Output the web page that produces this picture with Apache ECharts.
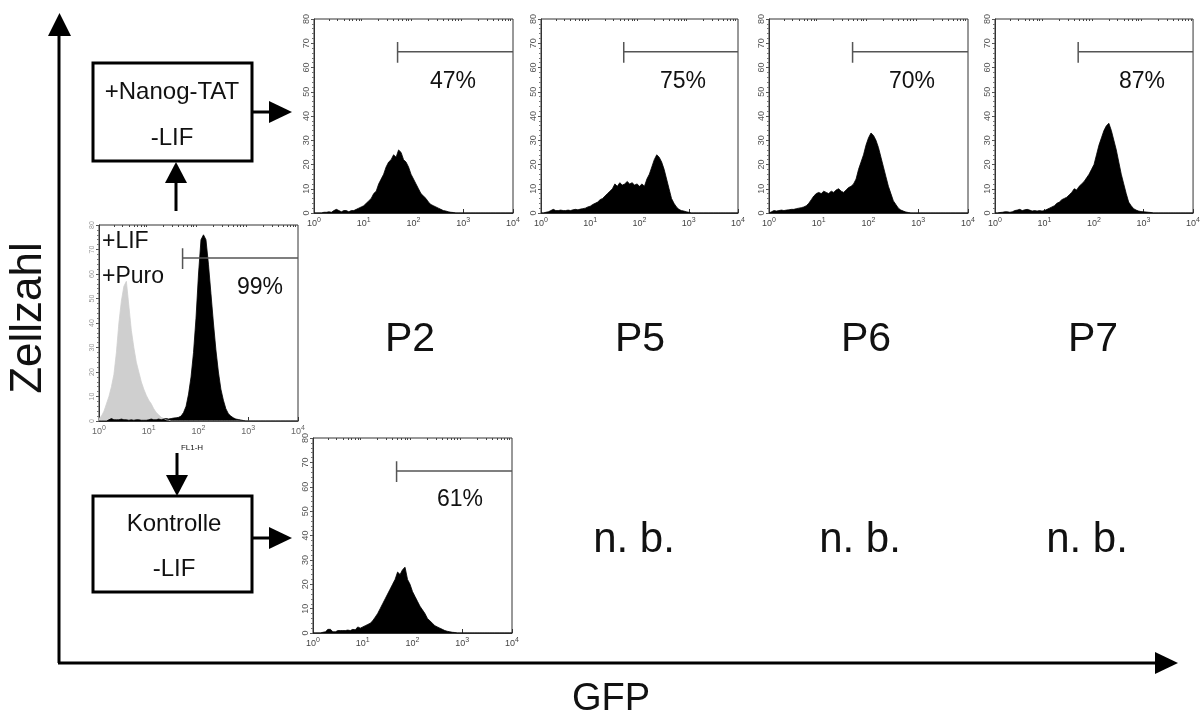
<!DOCTYPE html>
<html>
<head>
<meta charset="utf-8">
<script src="https://cdn.jsdelivr.net/npm/echarts@6/dist/echarts.min.js"></script>
<style>
html,body{margin:0;padding:0;background:#fff;}
#c{width:1203px;height:722px;}
</style>
</head>
<body>
<div id="c"></div>
<script>
// ---- DATA ----
// histogram bin centres, in decades of GFP intensity (10^0 .. 10^4)
const bins = [0,0.05,0.1,0.15,0.2,0.25,0.3,0.35,0.4,0.45,
  0.5,0.55,0.6,0.65,0.7,0.75,0.8,0.85,0.9,0.95,
  1,1.05,1.1,1.15,1.2,1.25,1.3,1.35,1.4,1.45,
  1.5,1.55,1.6,1.65,1.7,1.75,1.8,1.85,1.9,1.95,
  2,2.05,2.1,2.15,2.2,2.25,2.3,2.35,2.4,2.45,
  2.5,2.55,2.6,2.65,2.7,2.75,2.8,2.85,2.9,2.95,
  3,3.05,3.1,3.15,3.2,3.25,3.3,3.35,3.4,3.45,
  3.5,3.55,3.6,3.65,3.7,3.75,3.8,3.85,3.9,3.95,4];

const countsP2 = [0,0,0,0,0.3,0.3,0.5,0.3,1,1.5,
  1,0.5,1,1,0.5,1,1,1.5,2,2.5,
  3,4,5,6,8,9,12,14,16,19,
  21,22,24,23,26,25,22,21,19,16,
  14,12,10,8,7,6,4.5,3.5,3,2.5,
  2,1.5,1,0.8,0.5,0.3,0.2,0,0,0,
  0,0,0,0,0,0,0,0,0,0,
  0,0,0,0,0,0,0,0,0,0,0];
const countsP5 = [0,0,0.3,0.5,1,1.5,1,1,1.2,1,
  1,1.2,1,1.3,1.5,1.3,1.6,1.8,2,2.5,
  2.8,3.5,4,4.5,5.5,6,7,8,9,10,
  12,11,12.5,11.5,12,13,12,12.5,11.5,12,
  11,12,11,14,16,19,22,24,23,21,
  18,14,10,6,4,2.5,1.5,1,0.8,0.5,
  0.3,0,0,0,0,0,0,0,0,0,
  0,0,0,0,0,0,0,0,0,0,0];
const countsP6 = [0,0.5,1,0.8,1,1.2,1,1.2,1.3,1.5,
  1.5,1.8,2,2.2,2.5,3,4,5.5,7,8,
  8.5,8,9,8.5,8,9,8.5,9.5,10,9,
  8.5,9.5,10.5,11,12,14,18,21,24,28,
  31,33,32,30,27,23,19,15,11,8,
  5,3.5,2,1.2,0.8,0.4,0.2,0,0,0,
  0,0,0,0,0,0,0,0,0,0,
  0,0,0,0,0,0,0,0,0,0,0];
const countsP7 = [0,0,0.2,0.3,0.5,0.5,0.3,0.5,1,1.2,
  1.5,1,1.3,1.5,1.2,0.8,1,0.8,1,0.8,
  1,1.5,2,2.5,3,4,4.5,5.5,6,6.5,
  7.5,8.5,10,9.5,11,12,13,14.5,16,18,
  20,24,28,31,34,36,37,34,30,26,
  21,16,12,8,4.5,3,1.8,1.2,0.8,0.6,
  0.5,0.4,0.3,0.2,0,0,0,0,0,0,
  0,0,0,0,0,0,0,0,0,0,0];
const countsKontrolle = [0,0,0,0,0.3,0.5,1.5,1.5,0.5,0.5,
  1,1,1,1,1.2,1,1.5,1.3,2.5,2,
  2.5,3,3.5,4,5,6.5,8,10,12,14,
  16,18,20,22,25,24,26,27,22,20,
  17,15,13,11,9.5,8,6,5,4,3,
  2.5,2,1.5,1,0.7,0.5,0.3,0.2,0,0,
  0,0,0,0,0,0,0,0,0,0,
  0,0,0,0,0,0,0,0,0,0,0];
const countsLifPuro = [0,0,0,0,0.5,1,0.5,0.5,0.5,0.8,
  0.5,0.5,0.3,0.5,0.3,0.5,0.5,0.3,0.3,0.3,
  0.5,0.8,0.5,0.5,0.8,0.5,0.8,1,0.8,1,
  1.2,1.3,1.5,2,3.5,6,11,18,28,42,
  60,74,76,74,64,52,40,29,20,13,
  8.5,5,3,2,1.3,0.8,0.6,0.4,0.2,0,
  0,0,0,0,0,0,0,0,0,0,
  0,0,0,0,0,0,0,0,0,0,0];
const countsNegative = [1,2,4,7,10,14,19,28,40,49,
  55,57,47,37,30,24,20,16,13,10.5,
  8.5,7,5,3.5,2.5,1.5,1,0.5,0.3,0,
  0,0,0,0,0,0,0,0,0,0,
  0,0,0,0,0,0,0,0,0,0,
  0,0,0,0,0,0,0,0,0,0,
  0,0,0,0,0,0,0,0,0,0,
  0,0,0,0,0,0,0,0,0,0,0];

const passages = ['P2','P5','P6','P7'];
const percentNanog = ['47%','75%','70%','87%'];
const percentLif = '99%';
const percentKontrolle = '61%';
const notDetermined = 'n. b.';
const gateStart = 1.68;   // decades (~48)
const gateLevel = 66.5;
const gateTickLow = 62, gateTickHigh = 70.5;
const yTickLabels = ['0','10','20','30','40','50','60','70','80'];
const xDecades = [0,1,2,3,4];

// ---- LAYOUT ----
const FONT = 'Liberation Sans, Arial, Helvetica, sans-serif';
const grids = [
  {left:314, top:19, width:199, height:194},   // P2
  {left:541, top:19, width:197, height:194},   // P5
  {left:769, top:19, width:199, height:194},   // P6
  {left:995, top:19, width:200, height:194},   // P7
  {left:99,  top:225, width:199, height:196},  // +LIF +Puro
  {left:313, top:438, width:199, height:195}   // Kontrolle
];
const minorPositions = [];
for (let k = 0; k < 4; k++) for (let m = 2; m <= 9; m++) minorPositions.push(k + Math.log10(m));

const xAxes = [], yAxes = [], series = [];
grids.forEach((g, i) => {
  const faint = (i === 4);
  xAxes.push({
    gridIndex:i, type:'value', min:0, max:4, interval:1,
    axisLine:{show:true, lineStyle:{color:'#333', width:1}},
    axisTick:{show:true, inside:true, length:4, lineStyle:{color:'#333'}},
    axisLabel:{
      margin:4, color: faint ? '#666' : '#444',
      formatter: v => '{b|10}{s|' + xDecades[v] + '}',
      rich:{ b:{fontSize:9, fontFamily:FONT, color: faint ? '#666':'#444'},
             s:{fontSize:7, fontFamily:FONT, color: faint ? '#666':'#444', padding:[0,0,7,0]} }
    },
    splitLine:{show:false}
  });
  xAxes.push({
    gridIndex:i, type:'value', min:0, max:4,
    axisLine:{show:false},
    axisTick:{show:true, inside:true, length:2, customValues:minorPositions, lineStyle:{color:'#444'}},
    axisLabel:{show:false},
    splitLine:{show:false}
  });
  yAxes.push({
    gridIndex:i, type:'value', min:0, max:80, interval:10,
    axisLine:{show:true, lineStyle:{color:'#333', width:1}},
    axisTick:{show:true, length:3, lineStyle:{color:'#555'}},
    minorTick:{show:true, splitNumber:5, length:2, lineStyle:{color:'#777'}},
    axisLabel:{rotate:90, fontSize: faint ? 7 : 9, color: faint ? '#999' : '#555', margin:3, fontFamily:FONT,
      formatter: v => yTickLabels[v/10]},
    splitLine:{show:false}
  });
});

function hist(idx, counts, color) {
  return {
    type:'line', xAxisIndex:idx*2, yAxisIndex:idx, symbol:'none', silent:true,
    data: bins.map((b, j) => [b, counts[j]]),
    lineStyle:{color:color, width:0.8},
    areaStyle:{color:color, opacity:1},
    z:2
  };
}
function gate(idx) {
  return [{
    type:'line', xAxisIndex:idx*2, yAxisIndex:idx, symbol:'none', silent:true,
    data:[[gateStart, gateLevel],[4, gateLevel]],
    lineStyle:{color:'#555', width:1.5}, z:3
  },{
    type:'line', xAxisIndex:idx*2, yAxisIndex:idx, symbol:'none', silent:true,
    data:[[gateStart, gateTickLow],[gateStart, gateTickHigh]],
    lineStyle:{color:'#555', width:1.5}, z:3
  }];
}
series.push(hist(0, countsP2, '#000'));
series.push(hist(1, countsP5, '#000'));
series.push(hist(2, countsP6, '#000'));
series.push(hist(3, countsP7, '#000'));
series.push(hist(4, countsNegative, '#cfcfcf'));
series.push(hist(4, countsLifPuro, '#000'));
series.push(hist(5, countsKontrolle, '#000'));
for (let i = 0; i < 6; i++) series.push(...gate(i));

// ---- GRAPHIC (diagram annotations) ----
const LW = 3;
function txt(x, y, s, size, opts) {
  return Object.assign({type:'text', x:x, y:y, silent:true,
    style:{text:s, font: size + 'px ' + FONT, fill:'#111', align:'center', verticalAlign:'middle'}}, opts || {});
}
function ltxt(x, y, s, size) {
  return {type:'text', x:x, y:y, silent:true,
    style:{text:s, font: size + 'px ' + FONT, fill:'#111', align:'left', verticalAlign:'middle'}};
}
function line(x1,y1,x2,y2){ return {type:'line', silent:true, shape:{x1,y1,x2,y2}, style:{stroke:'#000', lineWidth:LW}}; }
function tri(pts){ return {type:'polygon', silent:true, shape:{points:pts}, style:{fill:'#000'}}; }

const graphics = [
  // main axes
  line(59, 663, 59, 30), tri([[48,36],[71,36],[59.5,13]]),
  line(58, 663, 1160, 663), tri([[1155,652],[1155,674],[1178,663]]),
  txt(29, 318, 'Zellzahl', 44, {rotation: Math.PI/2}),
  txt(611, 700, 'GFP', 38),
  // boxes
  {type:'rect', silent:true, shape:{x:93, y:63, width:159, height:98}, style:{fill:'#fff', stroke:'#000', lineWidth:LW}},
  {type:'rect', silent:true, shape:{x:93, y:496, width:159, height:96}, style:{fill:'#fff', stroke:'#000', lineWidth:LW}},
  txt(172, 92, '+Nanog-TAT', 24), txt(172, 138, '-LIF', 24),
  txt(174, 524, 'Kontrolle', 24), txt(174, 569, '-LIF', 24),
  // arrows
  line(252, 112, 272, 112), tri([[269,101],[269,123],[292,112]]),
  line(176, 211, 176, 180), tri([[165,183],[187,183],[176,162]]),
  line(177, 453, 177, 477), tri([[166,475],[188,475],[177,496]]),
  line(252, 538, 272, 538), tri([[269,527],[269,549],[292,538]]),
  // LIF plot annotations
  ltxt(102, 242, '+LIF', 23),
  ltxt(102, 277, '+Puro', 23),
  txt(260, 288, percentLif, 23),
  txt(192, 448, 'FL1-H', 8),
  txt(460, 500, percentKontrolle, 23)
];
const pctX = [453, 683, 912, 1142];
const colX = [410, 640, 866, 1093];
percentNanog.forEach((p, i) => graphics.push(txt(pctX[i], 82, p, 23)));
passages.forEach((p, i) => graphics.push(txt(colX[i], 340, p, 41)));
for (let i = 1; i < 4; i++) graphics.push(txt(colX[i] - 6, 540, notDetermined, 42));

const chart = echarts.init(document.getElementById('c'), null, {renderer:'canvas'});
chart.setOption({
  animation:false,
  backgroundColor:'#fff',
  textStyle:{fontFamily:FONT},
  grid: grids.map(g => Object.assign({show:true, borderColor:'#333', borderWidth:1, backgroundColor:'transparent', containLabel:false}, g)),
  xAxis:xAxes,
  yAxis:yAxes,
  series:series,
  graphic:graphics
});
</script>
</body>
</html>
